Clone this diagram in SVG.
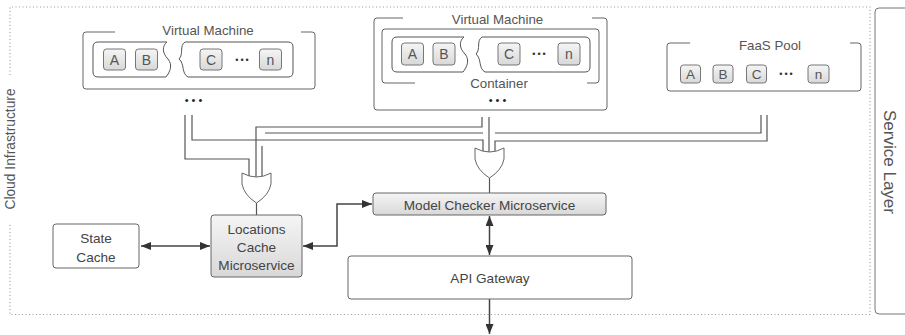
<svg xmlns="http://www.w3.org/2000/svg" width="905" height="335" viewBox="0 0 905 335">
<defs>
<linearGradient id="g" x1="0" y1="0" x2="0" y2="1"><stop offset="0" stop-color="#f5f5f5"/><stop offset="1" stop-color="#d8d8d8"/></linearGradient>
<marker id="ah" viewBox="0 0 10 8" refX="10" refY="4" markerWidth="10" markerHeight="8" markerUnits="userSpaceOnUse" orient="auto-start-reverse"><path d="M0,0 L10,4 L0,8 Z" fill="#333"/></marker>
</defs>
<style>
text{font-family:"Liberation Sans",Arial,sans-serif;fill:#555}
.ttl{font-size:13.3px;text-anchor:middle}
.box{fill:#fff;stroke:#666;stroke-width:1}
.gbox{fill:url(#g);stroke:#666;stroke-width:1}
.brk{fill:none;stroke:#666;stroke-width:1}
.piece{fill:#fff;stroke:#555;stroke-width:1}
.chip{fill:url(#g);stroke:#777;stroke-width:1}
.ltr{font-size:14px;text-anchor:middle}
.fltr{font-size:13.5px;text-anchor:middle}
.dots{font-size:9px;text-anchor:middle;fill:#333;letter-spacing:2px}
.bdots{font-size:11px;text-anchor:middle;fill:#222;letter-spacing:3px}
.wire{fill:none;stroke:#555;stroke-width:1.2}
.arr{fill:none;stroke:#444;stroke-width:1.5}
.gate{fill:#fff;stroke:#666;stroke-width:1}
.lbl{font-size:13.6px;text-anchor:middle;fill:#444}
.dotted{fill:none;stroke:#999;stroke-width:1.1;stroke-dasharray:1 2.5}
</style>

<g id="cloud-infrastructure">
<path class="dotted" d="M10,75 V7 H870 V314.5 H10 V223"/>
<text style="font-size:13.8px;text-anchor:middle" transform="translate(15,149) rotate(-90)">Cloud Infrastructure</text>
</g>

<g id="service-layer">
<path fill="none" stroke="#777" stroke-width="1" d="M905,8 H879 Q875,8 875,12 V310 Q875,314 879,314 H905"/>
<text style="font-size:17px;text-anchor:middle" transform="translate(884,162) rotate(90)">Service Layer</text>
</g>

<g id="vm1">
<path class="brk" d="M115,32 H86 Q83,32 83,35 V86 Q83,89 86,89 H312 Q315,89 315,86 V35 Q315,32 312,32 H301"/>
<text class="ttl" x="208" y="35">Virtual Machine</text>
<g transform="translate(93,42)">
<path class="piece" d="M5,0 H74 C69,4 69,11 75,17 C80,23 77,30 73,35 H5 Q0,35 0,30 V5 Q0,0 5,0 Z"/>
<path class="piece" d="M92,0 H195 Q200,0 200,5 V30 Q200,35 195,35 H95 C88,31 92,22 86,17 C91,12 86,4 92,0 Z"/>
<rect class="chip" x="10.5" y="7" width="22" height="21" rx="3"/>
<rect class="chip" x="42.5" y="7" width="22" height="21" rx="3"/>
<rect class="chip" x="107" y="7" width="22" height="21" rx="3"/>
<rect class="chip" x="166.5" y="7" width="22" height="21" rx="3"/>
<text class="ltr" x="21.5" y="22.5">A</text>
<text class="ltr" x="53.5" y="22.5">B</text>
<text class="ltr" x="118" y="22.5">C</text>
<text class="dots" x="150" y="20.5">•••</text>
<text class="ltr" x="177.5" y="22.5">n</text>
</g>
<text class="bdots" x="195" y="103.5">•••</text>
</g>

<g id="vm2">
<path class="brk" d="M403,18 H377 Q374,18 374,21 V107 Q374,110 377,110 H604 Q607,110 607,107 V21 Q607,18 604,18 H592"/>
<text class="ttl" x="497.5" y="24">Virtual Machine</text>
<path class="brk" d="M415,83 H385 Q382,83 382,80 V32 Q382,29 385,29 H596 Q599,29 599,32 V80 Q599,83 596,83 H587"/>
<text class="ttl" x="499" y="87.5">Container</text>
<g transform="translate(392,37)">
<path class="piece" d="M5,0 H72 C67,4 67,11 73,17 C78,23 75,30 71,35 H5 Q0,35 0,30 V5 Q0,0 5,0 Z"/>
<path class="piece" d="M90,0 H193 Q198,0 198,5 V30 Q198,35 193,35 H93 C86,31 90,22 84,17 C89,12 84,4 90,0 Z"/>
<rect class="chip" x="9.5" y="6" width="22" height="22" rx="3"/>
<rect class="chip" x="41" y="6" width="22" height="22" rx="3"/>
<rect class="chip" x="106" y="6" width="22" height="22" rx="3"/>
<rect class="chip" x="166" y="6" width="22" height="22" rx="3"/>
<text class="ltr" x="20.5" y="22">A</text>
<text class="ltr" x="52" y="22">B</text>
<text class="ltr" x="117" y="22">C</text>
<text class="dots" x="148" y="20">•••</text>
<text class="ltr" x="177" y="22">n</text>
</g>
<text class="bdots" x="499" y="103.5">•••</text>
</g>

<g id="faas-pool">
<path class="brk" d="M690,43 H670 Q667,43 667,46 V88 Q667,91 670,91 H858 Q861,91 861,88 V46 Q861,43 858,43 H850"/>
<text class="ttl" x="770" y="49.5">FaaS Pool</text>
<rect class="chip" x="680.5" y="65" width="20" height="18" rx="3"/>
<rect class="chip" x="713" y="65" width="20" height="18" rx="3"/>
<rect class="chip" x="746.5" y="65" width="20" height="18" rx="3"/>
<rect class="chip" x="808" y="65" width="21" height="18" rx="3"/>
<text class="fltr" x="690.5" y="79">A</text>
<text class="fltr" x="723" y="79">B</text>
<text class="fltr" x="756.5" y="79">C</text>
<text class="dots" x="787" y="77">•••</text>
<text class="fltr" x="818.5" y="79">n</text>
</g>

<g id="connectors">
<path class="wire" d="M185,115 V159 H249 V177"/>
<path class="wire" d="M192,115 V140 H483 V151"/>
<path class="wire" d="M482,117 V127 H256 V177"/>
<path class="wire" d="M489,117 V152"/>
<path class="wire" d="M761,115 V133 H495"/>
<path class="wire" d="M483,133 H265"/>
<path class="wire" d="M262,146 V177"/>
<path class="wire" d="M767,115 V141 H495 V151"/>
<path class="wire" d="M256.5,203 V215"/>
<path class="wire" d="M489.5,178 V193"/>
<path class="arr" d="M141,246 H210" marker-start="url(#ah)" marker-end="url(#ah)"/>
<path class="arr" d="M303,246 H337 V204 H372" marker-start="url(#ah)" marker-end="url(#ah)"/>
<path class="arr" d="M489.5,216 V255" marker-start="url(#ah)" marker-end="url(#ah)"/>
<path class="arr" d="M489.5,299 V334" marker-end="url(#ah)"/>
</g>

<g id="or-gate-left">
<path class="gate" d="M242,173 Q256.5,181 271,173 L271,184 Q269,195 256.5,203 Q244,195 242,184 Z"/>
</g>
<g id="or-gate-right">
<path class="gate" d="M475,148 Q489.5,156 504,148 L504,159 Q502,170 489.5,178 Q477,170 475,159 Z"/>
</g>

<g id="state-cache">
<rect class="box" x="53" y="224" width="86" height="44" rx="3"/>
<text class="lbl" x="96" y="242.5">State</text>
<text class="lbl" x="96" y="261.5">Cache</text>
</g>

<g id="locations-cache">
<rect class="gbox" x="211" y="215" width="91" height="62" rx="3"/>
<text class="lbl" x="256.5" y="233.5">Locations</text>
<text class="lbl" x="256.5" y="251.5">Cache</text>
<text class="lbl" x="256.5" y="269.5">Microservice</text>
</g>

<g id="model-checker">
<rect class="gbox" x="373" y="193" width="233" height="22" rx="3"/>
<text class="lbl" x="489.5" y="209.5">Model Checker Microservice</text>
</g>

<g id="api-gateway">
<rect class="box" x="348" y="256" width="284" height="43" rx="3"/>
<text class="lbl" x="490" y="283">API Gateway</text>
</g>
</svg>
